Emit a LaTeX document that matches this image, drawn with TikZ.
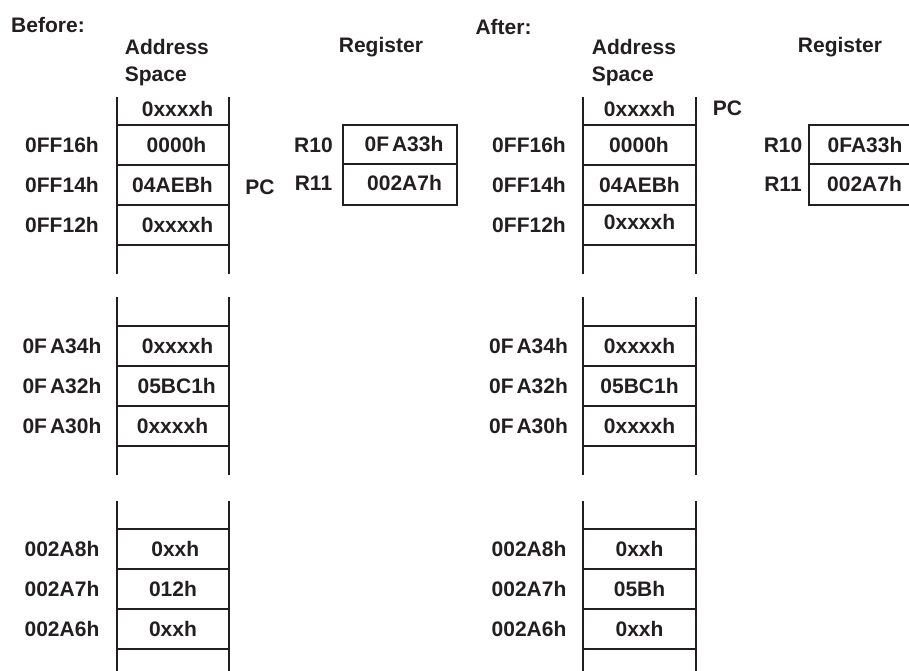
\documentclass[tikz,border=0pt]{standalone}
\usepackage{fontspec}
\setmainfont{Liberation Sans}
\definecolor{ink}{HTML}{231F20}
\begin{document}
\begin{tikzpicture}[x=1pt,y=-1pt,line width=1.8pt,color=ink,
  lbl/.style={font=\bfseries\fontsize{21}{25}\selectfont,text=ink,inner sep=0pt},
  hd/.style={lbl,anchor=west}]
\useasboundingbox (0,0) rectangle (909,670);
% memory ladders
\foreach \L/\R in {116.7/229.3,583.3/696}{
  \draw (\L,97) -- (\L,274); \draw (\R,97) -- (\R,274);
  \foreach \y in {125,165,205,245} \draw (\L,\y) -- (\R,\y);
  \draw (\L,297) -- (\L,475); \draw (\R,297) -- (\R,475);
  \foreach \y in {326,366,406,446} \draw (\L,\y) -- (\R,\y);
  \draw (\L,501) -- (\L,672); \draw (\R,501) -- (\R,672);
  \foreach \y in {529,569,609,649} \draw (\L,\y) -- (\R,\y);
}
% register boxes
\draw (343,125) rectangle (457,205); \draw (343,164) -- (457,164);
\draw (912,125) -- (809,125) -- (809,205) -- (912,205); \draw (809,164) -- (912,164);

% ---------- Before ----------
\node[lbl] (btitle) at (48,25) {Before:};
\node[hd] (baddr) at (124,47) {Address};
\node[hd] (bspace) at (124,76) {Space};
\node[hd] (breg) at (338,47) {Register};
\node[lbl] (btop) at (177.5,109) {0xxxxh};
\node[lbl] (ba1) at (62,145) {0FF16h};
\node[lbl] (ba2) at (62,185) {0FF14h};
\node[lbl] (ba3) at (62,225) {0FF12h};
\node[lbl] (bv1) at (176.5,145) {0000h};
\node[lbl] (bv2) at (172.5,185) {04AEBh};
\node[lbl] (bv3) at (177.5,225) {0xxxxh};
\node[lbl] (bpc) at (260,187) {PC};
\node[lbl] (br10) at (313.5,145) {R10};
\node[lbl] (br11) at (313.5,183) {R11};
\node[lbl] (brv1) at (404,144.5) {0F\kern3pt A33h};
\node[lbl] (brv2) at (404.5,183) {002A7h};
\node[lbl] (ba4) at (62,346) {0F\kern3pt A34h};
\node[lbl] (ba5) at (62,386) {0F\kern3pt A32h};
\node[lbl] (ba6) at (62,426) {0F\kern3pt A30h};
\node[lbl] (bv4) at (177.5,346) {0xxxxh};
\node[lbl] (bv5) at (176.7,386) {05BC1h};
\node[lbl] (bv6) at (172.5,426) {0xxxxh};
\node[lbl] (ba7) at (62,549) {002A8h};
\node[lbl] (ba8) at (62,589) {002A7h};
\node[lbl] (ba9) at (62,629) {002A6h};
\node[lbl] (bv7) at (175.3,549) {0xxh};
\node[lbl] (bv8) at (173,589) {012h};
\node[lbl] (bv9) at (173,629) {0xxh};

% ---------- After ----------
\node[lbl] (atitle) at (503.5,27) {After:};
\node[hd] (aaddr) at (591,47) {Address};
\node[hd] (aspace) at (591,76) {Space};
\node[hd] (areg) at (797,47) {Register};
\node[lbl] (atop) at (639.5,109) {0xxxxh};
\node[lbl] (apc) at (727.5,108.5) {PC};
\node[lbl] (aa1) at (529,145) {0FF16h};
\node[lbl] (aa2) at (529,185) {0FF14h};
\node[lbl] (aa3) at (529,225) {0FF12h};
\node[lbl] (av1) at (639,145) {0000h};
\node[lbl] (av2) at (639.5,185) {04AEBh};
\node[lbl] (av3) at (639.5,222) {0xxxxh};
\node[lbl] (ar10) at (783,145) {R10};
\node[lbl] (ar11) at (783,184) {R11};
\node[lbl] (arv1) at (865,145) {0FA33h};
\node[lbl] (arv2) at (864.5,184) {002A7h};
\node[lbl] (aa4) at (528.5,346) {0F\kern3pt A34h};
\node[lbl] (aa5) at (528.5,386) {0F\kern3pt A32h};
\node[lbl] (aa6) at (528.5,426) {0F\kern3pt A30h};
\node[lbl] (av4) at (639.5,346) {0xxxxh};
\node[lbl] (av5) at (639.5,386) {05BC1h};
\node[lbl] (av6) at (639.5,426) {0xxxxh};
\node[lbl] (aa7) at (529,549) {002A8h};
\node[lbl] (aa8) at (529,589) {002A7h};
\node[lbl] (aa9) at (529,629) {002A6h};
\node[lbl] (av7) at (639.5,549) {0xxh};
\node[lbl] (av8) at (639.5,589) {05Bh};
\node[lbl] (av9) at (639.5,629) {0xxh};
\end{tikzpicture}
\end{document}
